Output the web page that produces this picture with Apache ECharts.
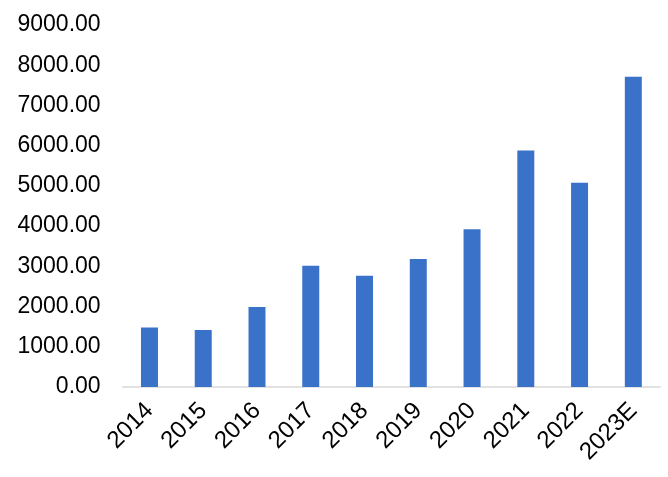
<!DOCTYPE html>
<html>
<head>
<meta charset="utf-8">
<script src="https://cdn.jsdelivr.net/npm/echarts@6/dist/echarts.min.js"></script>
<style>html,body{margin:0;padding:0;background:#fff}#c{width:668px;height:477px}</style>
</head>
<body>
<div id="c"></div>
<script>
const categories = ['2014','2015','2016','2017','2018','2019','2020','2021','2022','2023E'];
const values = [1482, 1418, 1990, 3017, 2768, 3184, 3920, 5878, 5075, 7711];
const yMin = 0, yMax = 9000, yInterval = 1000;

const chart = echarts.init(document.getElementById('c'), null, {renderer:'canvas'});
chart.setOption({
  animation: false,
  backgroundColor: '#ffffff',
  grid: {left: 122.6, right: 7.8, top: 25, bottom: 90, containLabel: false},
  xAxis: {
    type: 'category',
    data: categories,
    axisTick: {show: false},
    axisLine: {lineStyle: {color: '#d9d9d9', width: 1.5}},
    axisLabel: {rotate: 45, margin: 20, color: '#000', fontSize: 24, fontFamily: 'Liberation Sans, Arial, sans-serif', interval: 0}
  },
  yAxis: {
    type: 'value',
    min: yMin, max: yMax, interval: yInterval,
    splitLine: {show: false},
    axisLine: {show: false},
    axisTick: {show: false},
    axisLabel: {margin: 22, color: '#000', fontSize: 23, fontFamily: 'Liberation Sans, Arial, sans-serif', formatter: v => v.toFixed(2)}
  },
  series: [{
    type: 'bar',
    data: values,
    barWidth: '31.6%',
    itemStyle: {color: '#3a72c9'}
  }]
});
</script>
</body>
</html>
